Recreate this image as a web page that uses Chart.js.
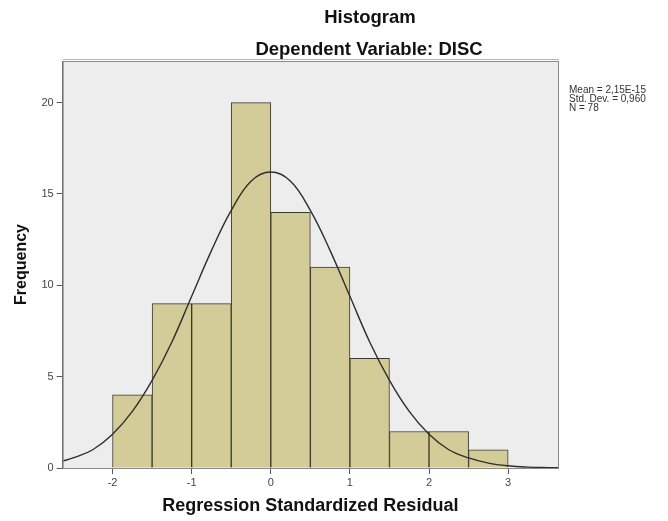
<!DOCTYPE html>
<html>
<head>
<meta charset="utf-8">
<script src="https://cdn.jsdelivr.net/npm/chart.js@4/dist/chart.umd.min.js"></script>
<style>
  body { margin: 0; background: #fff; }
  #wrap { width: 668px; height: 521px; }
</style>
</head>
<body>
<div id="wrap"><canvas id="histChart"></canvas></div>
<script>
// histogram bins (centre of each 0.5-wide bin) and counts
const binCenters = [-1.75, -1.25, -0.75, -0.25, 0.25, 0.75, 1.25, 1.75, 2.25, 2.75];
const frequencies = [4, 9, 9, 20, 14, 11, 6, 2, 2, 1];

// normal curve
const curveX = [-2.63, -2.5, -2.25, -2, -1.75, -1.5, -1.25, -1, -0.75, -0.5, -0.25, 0,
  0.25, 0.5, 0.75, 1, 1.25, 1.5, 1.75, 2, 2.25, 2.5, 2.75, 3, 3.25, 3.5, 3.63];
const curveY = [0.38, 0.55, 1.0, 1.85, 3.1, 4.8, 6.9, 9.4, 11.9, 14.1, 15.7, 16.2,
  15.7, 14.1, 11.9, 9.4, 6.9, 4.8, 3.1, 1.85, 1.0, 0.55, 0.27, 0.12, 0.05, 0.02, 0.01];

const xTicks = [-2, -1, 0, 1, 2, 3];
const yTicks = [0, 5, 10, 15, 20];

const titleText = "Histogram";
const subtitleText = "Dependent Variable: DISC";
const statsLines = ["Mean = 2,15E-15", "Std. Dev. = 0,960", "N = 78"];

const FONT = "'Liberation Sans', Arial, sans-serif";

const framePlugin = {
  id: "frame",
  beforeDraw(chart) {
    const { ctx, chartArea: a } = chart;
    ctx.save();
    ctx.fillStyle = "#ededed";
    ctx.fillRect(a.left, a.top, a.right - a.left, a.bottom - a.top);
    ctx.restore();
  },
  afterDraw(chart) {
    const { ctx, chartArea: a } = chart;
    ctx.save();
    ctx.strokeStyle = "#8a8a8a";
    ctx.lineWidth = 1;
    ctx.strokeRect(a.left + 0.5, a.top + 0.5, a.right - a.left, a.bottom - a.top);
    ctx.strokeStyle = "#b5b5b5";
    ctx.beginPath();
    ctx.moveTo(a.left, a.top - 1.5);
    ctx.lineTo(a.right + 1, a.top - 1.5);
    ctx.stroke();

    // titles
    ctx.fillStyle = "#111";
    ctx.textAlign = "center";
    ctx.textBaseline = "alphabetic";
    ctx.font = "bold 18.5px " + FONT;
    ctx.fillText(titleText, 370, 23);
    ctx.fillText(subtitleText, 369, 55);

    // stats box text
    ctx.fillStyle = "#333";
    ctx.textAlign = "left";
    ctx.font = "10px " + FONT;
    statsLines.forEach((t, i) => ctx.fillText(t, a.right + 11, a.top + 32 + i * 8.8));
    ctx.restore();
  }
};

new Chart(document.getElementById("histChart"), {
  data: {
    datasets: [
      {
        type: "line",
        data: curveX.map((x, i) => ({ x, y: curveY[i] })),
        borderColor: "#2e2e2e",
        borderWidth: 1.4,
        pointRadius: 0,
        tension: 0.4,
        fill: false,
        order: 0
      },
      {
        type: "bar",
        data: binCenters.map((x, i) => ({ x, y: frequencies[i] })),
        backgroundColor: "#d3cc98",
        borderColor: "#3a3a2a",
        borderWidth: 1,
        barPercentage: 1,
        categoryPercentage: 1,
        order: 1
      }
    ]
  },
  options: {
    responsive: true,
    maintainAspectRatio: false,
    animation: false,
    layout: { padding: { top: 61, right: 110, left: 0, bottom: 0 } },
    plugins: {
      legend: { display: false },
      tooltip: { enabled: false }
    },
    scales: {
      x: {
        type: "linear",
        offset: false,
        min: -2.63,
        max: 3.63,
        afterBuildTicks: s => { s.ticks = xTicks.map(v => ({ value: v })); },
        afterFit: s => { s.height = 53; },
        ticks: { color: "#444", font: { family: FONT, size: 11 }, padding: 2 },
        grid: { offset: false, drawOnChartArea: false, tickLength: 6, color: "#555" },
        border: { color: "#666" },
        title: {
          display: true,
          text: "Regression Standardized Residual",
          color: "#111",
          font: { family: FONT, size: 18, weight: "bold" },
          padding: { top: 0, bottom: 4 }
        }
      },
      y: {
        min: 0,
        max: 22.28,
        afterBuildTicks: s => { s.ticks = yTicks.map(v => ({ value: v })); },
        afterFit: s => { s.width = 62.7; },
        ticks: { color: "#444", font: { family: FONT, size: 11 }, padding: 3 },
        grid: { drawOnChartArea: false, tickLength: 6, color: "#555" },
        border: { color: "#666" },
        title: {
          display: true,
          text: "Frequency",
          color: "#111",
          font: { family: FONT, size: 16, weight: "bold" },
          padding: { top: 12, bottom: 0 }
        }
      }
    }
  },
  plugins: [framePlugin]
});
</script>
</body>
</html>
